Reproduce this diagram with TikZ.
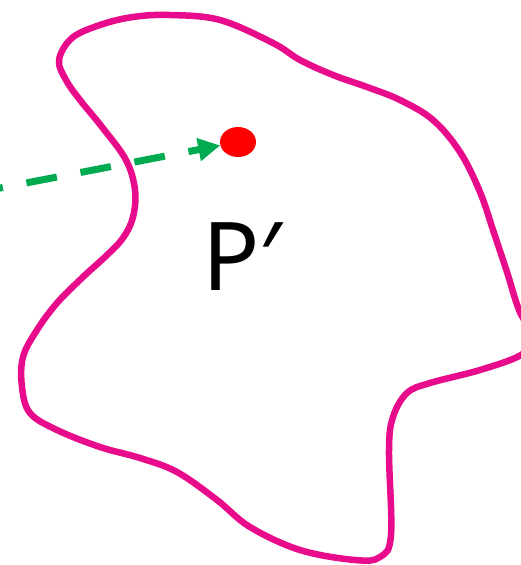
\documentclass[tikz,border=0pt]{standalone}
\usepackage{fontspec}
\setmainfont{Noto Sans}
\usetikzlibrary{arrows.meta,shapes.geometric}
\definecolor{blobpink}{RGB}{232,12,140}
\definecolor{arrgreen}{RGB}{0,170,80}
\definecolor{dotred}{RGB}{255,0,0}
\tikzset{
  blob/.style={draw=blobpink, line width=6.5pt, line join=round},
  flow/.style={draw=arrgreen, line width=7pt, dash pattern=on 31pt off 24pt, dash phase=23pt,
    -{Triangle[length=22pt,width=22pt]}},
  spot/.style={ellipse, fill=dotred, minimum width=36pt, minimum height=30pt, inner sep=0pt},
  lbl/.style={font=\fontsize{95}{95}\selectfont, inner sep=0pt}
}
\begin{document}
\begin{tikzpicture}[x=1pt,y=-1pt]
\useasboundingbox (0,0) rectangle (521,565);
\clip (0,0) rectangle (521,565);
\draw[blob] plot[smooth cycle, tension=0.6] coordinates {
 (59,60) (66,80) (80,100) (102,127) (126,160) (135,190) (133,217) (123,238) (106,256) (83,277)
 (57,303) (37,330) (23,357) (22,387) (30,413) (57,430) (100,447) (140,458)
 (177,472) (217,500) (250,527) (300,550) (355,560) (380,557) (391,535)
 (389,450) (393,417) (407,393) (430,383) (480,370) (521,355) (533,338)
 (519,310) (507,272) (494,233) (480,192) (460,152) (433,120) (400,100)
 (367,87) (333,75) (300,60) (273,43) (220,20) (170,15) (133,17) (100,25) (72,38)};
\node[spot] (dot) at (238,142) {};
\coordinate (start) at (-5,189);
\draw[flow] (start) -- (dot);
\node[lbl] (P) at (242,257) {P′};
\end{tikzpicture}
\end{document}
